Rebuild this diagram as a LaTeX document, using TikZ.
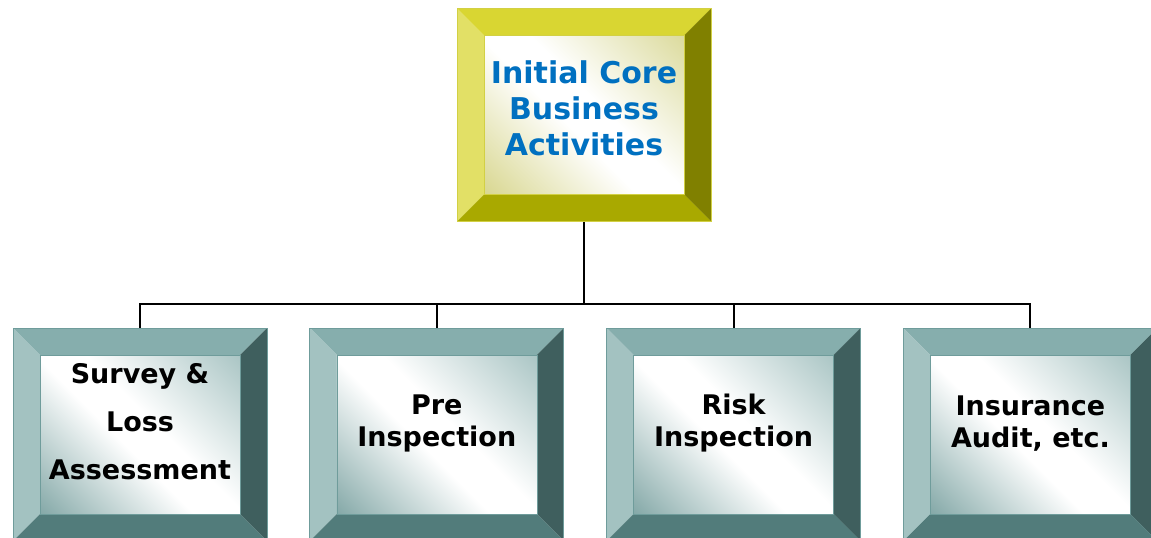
\documentclass[tikz,border=0pt]{standalone}
\usepackage{fontspec}
\setmainfont{DejaVu Sans}
\usepackage{xcolor}
\usepackage{tikz}
\usetikzlibrary{positioning}

\definecolor{coretop}{HTML}{D9D632}
\definecolor{coreleft}{HTML}{E2E066}
\definecolor{coreright}{HTML}{808000}
\definecolor{corebot}{HTML}{A9A900}
\definecolor{coreedge}{HTML}{D2D044}
\definecolor{coredeep}{HTML}{D0CE78}
\definecolor{corelite}{HTML}{D4D388}
\definecolor{teamtop}{HTML}{86AEAD}
\definecolor{teamleft}{HTML}{A3C2C1}
\definecolor{teamright}{HTML}{3F5F5E}
\definecolor{teambot}{HTML}{527C7B}
\definecolor{teamedge}{HTML}{6F9C9B}
\definecolor{teamdeep}{HTML}{6A9695}
\definecolor{teamlite}{HTML}{98B9B8}
\definecolor{coreblue}{HTML}{0070C0}

% face shadings: white along one diagonal, tint in the other two corners
\pgfdeclareverticalshading{coreface}{100bp}{color(0bp)=(coredeep); color(8bp)=(coredeep);
  color(45bp)=(white); color(55bp)=(white); color(92bp)=(corelite); color(100bp)=(corelite)}
\pgfdeclareverticalshading{teamface}{100bp}{color(0bp)=(teamdeep); color(8bp)=(teamdeep);
  color(45bp)=(white); color(55bp)=(white); color(92bp)=(teamlite); color(100bp)=(teamlite)}

\tikzset{
  bevelbox/.style={minimum width=254pt, minimum height=213pt, inner sep=0pt,
    draw=#1edge, line width=0.8pt,
    path picture={
      \coordinate (nw) at (path picture bounding box.north west);
      \coordinate (ne) at (path picture bounding box.north east);
      \coordinate (sw) at (path picture bounding box.south west);
      \coordinate (se) at (path picture bounding box.south east);
      \coordinate (inw) at ([shift={(27pt,-27pt)}]nw);
      \coordinate (ine) at ([shift={(-27pt,-27pt)}]ne);
      \coordinate (isw) at ([shift={(27pt,27pt)}]sw);
      \coordinate (ise) at ([shift={(-27pt,27pt)}]se);
      \fill[#1top] (nw) -- (ne) -- (ine) -- (inw) -- cycle;
      \fill[#1left] (nw) -- (inw) -- (isw) -- (sw) -- cycle;
      \fill[#1right] (ne) -- (ine) -- (ise) -- (se) -- cycle;
      \fill[#1bot] (sw) -- (isw) -- (ise) -- (se) -- cycle;
      \shade[shading=#1face, shading angle=-45, draw=#1edge, line width=0.6pt] (inw) rectangle (ise);
    }},
  coretext/.style={align=center, text=coreblue, font=\bfseries\fontsize{30}{36}\selectfont},
  teamtext/.style={align=center, font=\bfseries\fontsize{27}{32}\selectfont},
  link/.style={draw=black, line width=2pt}
}

\begin{document}
\begin{tikzpicture}
\useasboundingbox (0,0) rectangle (1151pt,-538pt);
\clip (0,0) rectangle (1151pt,-538pt);

\node (core) [bevelbox=core] at (584pt,-115pt) {};
\node (survey) [bevelbox=team] at (140pt,-434.5pt) {};
\node (pre) [bevelbox=team, right=42pt of survey] {};
\node (risk) [bevelbox=team, right=42pt of pre] {};
\node (audit) [bevelbox=team, right=42pt of risk] {};

\node (core text) [coretext, yshift=7pt] at (core) {Initial Core\\Business\\Activities};
\node (survey text) [teamtext, font=\bfseries\fontsize{27}{48}\selectfont, yshift=13pt] at (survey) {Survey \&\\Loss\\Assessment};
\node (pre text) [teamtext, yshift=11pt] at (pre) {Pre\\Inspection};
\node (risk text) [teamtext, yshift=11pt] at (risk) {Risk\\Inspection};
\node (audit text) [teamtext, yshift=11pt] at (audit) {Insurance\\Audit, etc.};

\draw [link] (core.south) -- ++(0,-82.5pt) coordinate (hub);
\foreach \b in {survey,pre,risk,audit}
  \draw [link] (hub) -| (\b.north);

\end{tikzpicture}
\end{document}
